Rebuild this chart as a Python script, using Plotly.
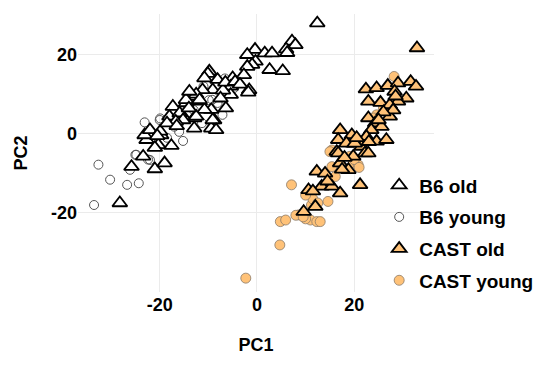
import plotly.graph_objects as go

# ---- data (PC1, PC2) ----
b6_old_x = [12.4, 7.2, 7.9, 6.0, 6.2, 2.6, 5.3, -0.4, -2.0, 1.6, 3.1, -0.3, -1.0, -2.0, -2.7, -1.6, -1.8,
            -5.0, -5.4, -5.4, -6.4, -9.8, -10.1, -8.1, -10.8, -9.1, -11.2, -13.9, -14.6, -11.8, -9.4, -10.8,
            -8.8, -12.9, -15.2, -7.0, -6.5, -12.5, -28.2, -25.8, -23.4, -21.0, -19.0, -17.6, -20.3, -22.7,
            -23.1, -22.0, -19.7, -17.3, -18.0, -15.9, -14.6, -12.9, -9.4, -9.1, -12.5, -15.2, -13.9, -11.8,
            -16.7, -19.9, -18.5, -21.0, -20.5, -8.4, -16.5, -14.0, -7.5, -4.5, -3.5]
b6_old_y = [28.0, 23.4, 22.5, 21.4, 20.5, 16.2, 15.9, 21.3, 20.0, 20.4, 20.4, 18.3, 17.5, 17.0, 14.9, 11.1, 10.5,
            14.1, 12.0, 9.9, 6.5, 15.8, 15.2, 13.7, 14.1, 11.1, 11.1, 9.4, 7.8, 8.2, 6.1, 6.1,
            3.5, 4.0, 4.4, 11.0, 13.0, 10.0, -17.5, -8.3, -5.7, -8.9, -7.4, -3.0, -2.8, -1.5,
            -0.3, 1.0, -0.3, 6.9, 4.4, 5.2, 8.6, 1.4, 1.4, 3.5, 4.4, 3.5, 10.7, 8.6,
            3.1, 0.6, 2.7, -3.5, -0.5, 1.0, 2.0, 6.5, 9.0, 13.2, 12.5]

b6_young_x = [-33.5, -32.6, -30.2, -26.7, -24.3, -26.1, -23.1, -15.2, -20.0, -24.8, -22.0, -8.1, -19.9, -22.4,
              -25.0, -6.6, -4.7, -9.2, -7.1, -17.0, -11.3, -9.9, -13.0, -16.0, -5.5, -18.5, -11.0]
b6_young_y = [-18.0, -7.8, -11.6, -12.9, -12.5, -9.1, 2.9, -1.8, 3.5, -5.3, -6.6, 7.8, 3.9, -6.5,
              -5.3, 14.0, 11.6, 8.6, 4.8, 1.8, 2.7, 8.5, 6.0, 0.5, 13.0, -1.0, 12.0]

cast_old_x = [32.9, 22.4, 24.6, 26.9, 29.0, 31.6, 32.7, 28.3, 30.7, 22.9, 25.4, 29.0, 27.3, 27.3, 22.9, 24.3,
              25.6, 23.5, 22.5, 24.6, 26.6, 17.1, 19.5, 19.8, 16.7, 21.5, 22.2, 16.4, 9.6, 12.0, 10.6, 12.3,
              14.0, 13.3, 15.4, 17.1, 21.2, 16.7, 17.1, 18.8, 18.4, 20.1, 22.9, 19.8, 28.0, 26.0, 25.0, 28.5,
              18.0, 17.5, 11.5, 14.5, 23.0, 20.5]
cast_old_y = [21.7, 11.3, 11.6, 12.2, 12.8, 13.2, 12.0, 10.7, 9.0, 8.2, 7.9, 8.2, 7.3, 4.4, 4.0, 2.7,
              1.8, 1.0, -0.7, -1.9, -1.5, 1.0, -0.3, -2.4, -1.5, -3.2, -4.9, -4.5, -19.7, -18.4, -14.2, -9.5,
              -10.0, -13.3, -13.3, -15.0, -12.9, -4.9, -7.4, -9.1, -2.4, -2.4, -4.9, -5.7, 6.0, 5.5, 3.5, 9.5,
              -6.0, -9.0, -14.5, -12.0, -2.0, -1.0]

cast_young_x = [28.2, 24.6, 15.4, 19.1, 7.1, 4.7, 4.8, 5.9, 8.6, 11.0, 12.3, 13.0, 14.6, 11.2, 15.4, 16.1,
                15.0, 19.8, 20.8, -2.3, 8.0, 10.0, 9.5, 11.5, 20.0, 24.0, 21.0, 10.0, 12.5, 26.0]
cast_young_y = [14.5, 4.8, -4.1, -5.7, -12.9, -28.1, -22.2, -21.8, -20.5, -21.8, -22.2, -22.2, -17.1, -18.0, -8.3, -10.8,
                -4.5, -7.4, -7.8, -36.5, -20.6, -21.5, -21.0, -16.5, -6.5, 4.0, -8.5, -15.5, -17.5, 6.5]

x_ticks = [-20, 0, 20]
y_ticks = [-20, 0, 20]

ORANGE = "#FFC278"
FONT = "Liberation Sans, Arial, sans-serif"

fig = go.Figure()

fig.add_trace(go.Scatter(
    x=b6_young_x, y=b6_young_y, mode="markers", name="B6 young", legendgroup="b", legendrank=2,
    marker=dict(symbol="circle-open", size=9, color="#555555", line=dict(width=1, color="#555555")),
))
fig.add_trace(go.Scatter(
    x=cast_young_x, y=cast_young_y, mode="markers", name="CAST young", legendgroup="d", legendrank=4,
    marker=dict(symbol="circle", size=10, color=ORANGE, line=dict(width=0.8, color="#8a7a68")),
))
fig.add_trace(go.Scatter(
    x=b6_old_x, y=b6_old_y, mode="markers", name="B6 old", legendgroup="a", legendrank=1,
    marker=dict(symbol="triangle-up", size=13, color="white", line=dict(width=1.8, color="black")),
))
fig.add_trace(go.Scatter(
    x=cast_old_x, y=cast_old_y, mode="markers", name="CAST old", legendgroup="c", legendrank=3,
    marker=dict(symbol="triangle-up", size=13, color=ORANGE, line=dict(width=1.8, color="black")),
))

axis_common = dict(
    showgrid=True, gridcolor="#EBEBEB", gridwidth=1, zeroline=False, showline=False,
    ticks="", tickfont=dict(family=FONT, size=18, color="black", weight="bold"),
)

fig.update_layout(
    width=550, height=365,
    margin=dict(l=78, r=114, t=14, b=73),
    paper_bgcolor="white", plot_bgcolor="white",
    xaxis=dict(range=[-36.8, 36.4], tickvals=x_ticks, ticktext=[str(v) for v in x_ticks],
               title=dict(text="PC1", font=dict(family=FONT, size=18, color="black", weight="bold"), standoff=24),
               **axis_common),
    yaxis=dict(range=[-40, 30.3], tickvals=y_ticks, ticktext=[str(v) for v in y_ticks],
               title=dict(text="PC2", font=dict(family=FONT, size=18, color="black", weight="bold"), standoff=18),
               **axis_common),
    legend=dict(x=0.846, y=0.452, xanchor="left", yanchor="top", traceorder="grouped",
                tracegroupgap=4, bgcolor="rgba(0,0,0,0)",
                font=dict(family=FONT, size=19, color="black", weight="bold")),
    showlegend=True,
)

fig.write_html("out.html")
